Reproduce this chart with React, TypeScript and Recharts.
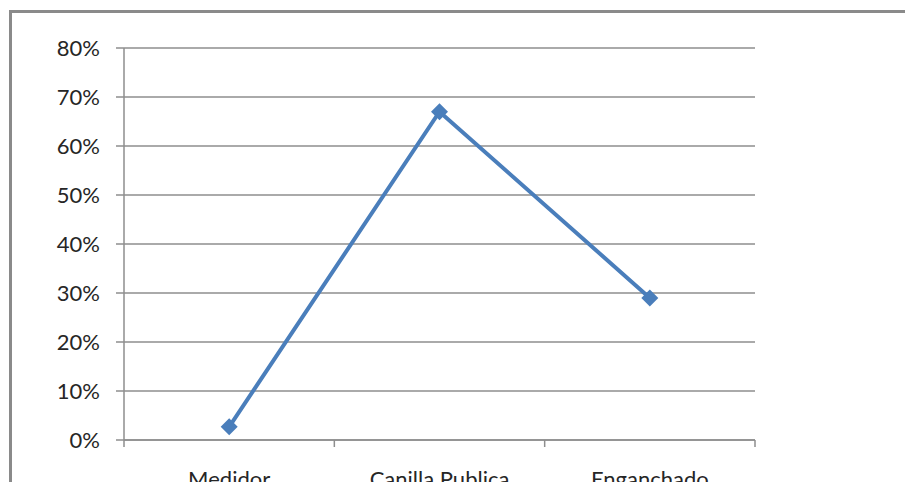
import { CartesianGrid, Line, LineChart, XAxis, YAxis } from "recharts";

const categories = ["Medidor", "Canilla Publica", "Enganchado"];
const shares = [0.027, 0.67, 0.29];
const yTicks = [0, 0.1, 0.2, 0.3, 0.4, 0.5, 0.6, 0.7, 0.8];

const LINE_BLUE = "#4a7ebb";
const GRID_GRAY = "#8e8e8e";
const FONT = "Lato, 'Open Sans', sans-serif";

// each category sits in the middle of its own slot; slot edges get tick marks
const data = categories.map((name, i) => ({ name, slot: i + 0.5, share: shares[i] }));
const xTicks = [0, ...categories.flatMap((_, i) => [i + 0.5, i + 1])];

function CategoryTick(props: any) {
  const { x, y, payload } = props;
  const v = payload.value as number;
  if (Number.isInteger(v)) {
    return <line x1={x} x2={x} y1={y - 7} y2={y} stroke={GRID_GRAY} strokeWidth={1.5} />;
  }
  const label = categories[Math.floor(v)];
  return (
    <text x={x} y={y} dy={40} textAnchor="middle" fill="#262626" fontSize={22} fontFamily={FONT}>
      {label}
    </text>
  );
}

function Diamond(props: any) {
  const { cx, cy } = props;
  if (cx == null || cy == null) return null;
  const r = 8.5;
  return (
    <polygon
      points={`${cx},${cy - r} ${cx + r},${cy} ${cx},${cy + r} ${cx - r},${cy}`}
      fill={LINE_BLUE}
    />
  );
}

export default function App() {
  return (
    <div
      style={{
        position: "fixed",
        left: 0,
        top: 0,
        width: 905,
        height: 482,
        overflow: "hidden",
        background: "#fff",
      }}
    >
      <div
        style={{
          position: "absolute",
          left: 9,
          top: 10,
          width: 1000,
          height: 600,
          borderLeft: "3px solid #8a8a8a",
          borderTop: "3px solid #8a8a8a",
        }}
      />
      <div style={{ position: "absolute", left: 0, top: 0 }}>
        <LineChart
          width={905}
          height={500}
          data={data}
          margin={{ top: 48, right: 150, bottom: 0, left: 0 }}
        >
          <CartesianGrid horizontal vertical={false} stroke={GRID_GRAY} strokeWidth={1.5} />
          <XAxis
            dataKey="slot"
            type="number"
            domain={[0, categories.length]}
            ticks={xTicks}
            interval={0}
            height={60}
            tickSize={7}
            tickMargin={0}
            tickLine={false}
            axisLine={{ stroke: GRID_GRAY, strokeWidth: 1.5 }}
            tick={<CategoryTick />}
          />
          <YAxis
            type="number"
            domain={[0, 0.8]}
            ticks={yTicks}
            interval={0}
            width={124}
            tickSize={8}
            tickMargin={16}
            axisLine={{ stroke: GRID_GRAY, strokeWidth: 1.5 }}
            tickLine={{ stroke: GRID_GRAY, strokeWidth: 1.5 }}
            tickFormatter={(v: number) => `${Math.round(v * 100)}%`}
            tick={{ fill: "#262626", fontSize: 22, fontFamily: FONT }}
          />
          <Line
            dataKey="share"
            stroke={LINE_BLUE}
            strokeWidth={4}
            dot={<Diamond />}
            activeDot={false}
            isAnimationActive={false}
          />
        </LineChart>
      </div>
    </div>
  );
}
